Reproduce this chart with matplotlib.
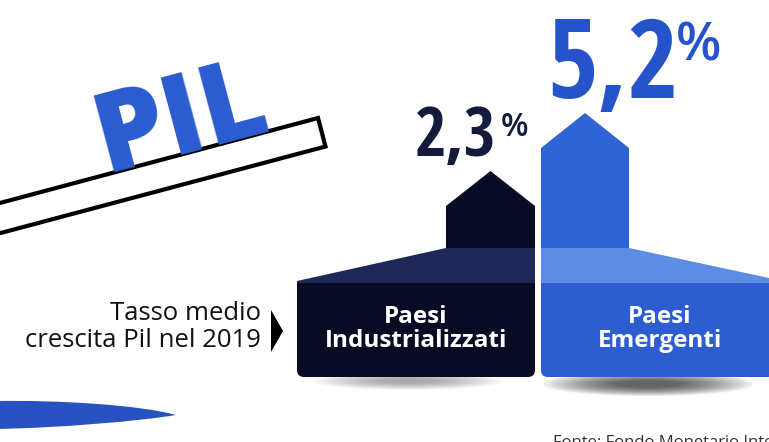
import matplotlib
matplotlib.use("Agg")
import matplotlib.pyplot as plt
from matplotlib import font_manager as fm
from matplotlib.patches import Polygon, FancyBboxPatch, Rectangle, Ellipse, PathPatch
from matplotlib.path import Path

# data
categories = ["Paesi\nIndustrializzati", "Paesi\nEmergenti"]
values = [2.3, 5.2]
value_labels = ["2,3", "5,2"]
side_label = "Tasso medio\ncrescita Pil nel 2019"
title = "PIL"
source = "Fonte: Fondo Monetario Internazionale"

FONT = "Open Sans"
W, H = 769, 442

dark_col = "#080b24"
dark_trap = "#1f2856"
blue_col = "#3063d4"
blue_box = "#2d5dcf"
blue_trap = "#5d8ce4"
ink_dark = "#141a3c"
ink_blue = "#2553c9"


def condensed_font():
    # look for a narrow face for the big numbers, else None
    order = ["Open Sans", "Roboto", "Noto Sans", "Lato", "Liberation Sans", "DejaVu Sans"]
    best, best_score = None, None
    for f in fm.fontManager.ttflist:
        narrow = ("Condensed" in f.name or "Narrow" in f.name
                  or str(f.stretch) in ("condensed", "semi-condensed", "extra-condensed"))
        if not narrow:
            continue
        fam = next((i for i, o in enumerate(order) if f.name.startswith(o)), len(order))
        try:
            w = int(f.weight)
        except ValueError:
            w = {"bold": 700, "semibold": 600, "medium": 500}.get(str(f.weight), 400)
        score = (fam, abs(w - 600), "Italic" in f.fname)
        if best_score is None or score < best_score:
            best, best_score = f, score
    return best


cf = condensed_font()


def num_props(size):
    if cf is not None:
        return fm.FontProperties(fname=cf.fname, size=size)
    return fm.FontProperties(family=FONT, weight="semibold", size=size * 0.9)


fig = plt.figure(figsize=(W / 100, H / 100), dpi=100)
ax = fig.add_axes([0, 0, 1, 1])
ax.set_xlim(0, W)
ax.set_ylim(H, 0)
ax.axis("off")

# slanted bar under the title
bar = Polygon([(-20, 208.3), (318, 118), (325.5, 146.5), (-20, 238.5)],
              closed=True, facecolor="white", edgecolor="black", lw=3.0, zorder=2)
ax.add_patch(bar)
ax.text(105, 173, title, rotation=15, rotation_mode="anchor", ha="left", va="baseline",
        fontsize=80, fontweight="heavy", family=FONT, color="#2a5bd0", zorder=3)

# blue swoosh bottom-left
sw = Path([(-5, 401), (60, 400), (140, 405), (176, 415),
           (140, 421), (60, 428), (-5, 429), (-5, 401)],
          [Path.MOVETO, Path.CURVE4, Path.CURVE4, Path.CURVE4,
           Path.CURVE4, Path.CURVE4, Path.CURVE4, Path.CLOSEPOLY])
ax.add_patch(PathPatch(sw, facecolor="#2852c2", edgecolor="none"))

# side label with pointer
ax.text(261, 327, side_label, ha="right", va="center", multialignment="right",
        fontsize=18.5, fontweight="medium", family=FONT, color="#111111", linespacing=1.15)
ax.add_patch(Polygon([(271, 310), (283, 331), (271, 352)], closed=True,
                     facecolor="black", edgecolor="none"))

# shadows under the boxes
for i in range(12):
    ax.add_patch(Ellipse((408, 381), 190 - i * 12, 18 - i * 1.2, color="black",
                         alpha=0.03, lw=0, zorder=0.5))
    ax.add_patch(Ellipse((648, 384), 210 - i * 13, 24 - i * 1.5, color="black",
                         alpha=0.07, lw=0, zorder=0.5))

# base boxes and slanted shoulders
boxes = [(297, 535, dark_col, dark_trap), (541, 775, blue_box, blue_trap)]
traps = [[(297, 283), (297, 281), (446, 248), (535, 248), (535, 283)],
         [(541, 283), (541, 248), (629, 248), (769, 278), (775, 279), (775, 283)]]
for (x0, x1, fc, tc), tr in zip(boxes, traps):
    ax.add_patch(FancyBboxPatch((x0, 283), x1 - x0, 94,
                                boxstyle="round,pad=0,rounding_size=7",
                                facecolor=fc, edgecolor="none", zorder=1))
    ax.add_patch(Rectangle((x0, 282), x1 - x0, 50, facecolor=fc, edgecolor="none", zorder=1))
    ax.add_patch(Polygon(tr, closed=True, facecolor=tc, edgecolor="none", zorder=1))

label_x = [416, 660]
for lx, cat in zip(label_x, categories):
    ax.text(lx, 329, cat, ha="center", va="center", color="white", fontsize=17.5,
            fontweight="bold", family=FONT, linespacing=1.05, zorder=3)

ax.text(553, 447, source, ha="left", va="baseline", fontsize=12, family=FONT,
        color="#333333", clip_on=False)

# value axes: columns drawn in value units
y_low = -1.55
axv = fig.add_axes([0, (H - 248) / H, 1, 248 / H])
axv.set_xlim(0, W)
axv.set_ylim(y_low, 10.85)
axv.axis("off")
axv.patch.set_alpha(0)

col_x = [(446, 535), (541, 629)]
col_c = [dark_col, blue_col]
roof = 1.75
for (x0, x1), v, c in zip(col_x, values, col_c):
    xc = (x0 + x1) / 2
    axv.add_patch(Polygon([(x0, y_low), (x0, v - roof), (xc, v), (x1, v - roof), (x1, y_low)],
                          closed=True, facecolor=c, edgecolor="none"))

num_x = [415, 547]
num_size = [49, 79]
pct_size = [23, 38]
pct_off = [(3, -5), (-2, -4)]
num_c = [ink_dark, ink_blue]
for v, lab, nx, ns, ps, po, c in zip(values, value_labels, num_x, num_size, pct_size,
                                     pct_off, num_c):
    t = axv.text(nx, v + 0.75, lab, ha="left", va="baseline", fontproperties=num_props(ns),
                 color=c)
    axv.annotate("%", xy=(1, 1), xycoords=t, xytext=po, textcoords="offset points",
                 ha="left", va="top", fontsize=ps, fontweight="semibold", family=FONT,
                 color=c)

fig.savefig("out.png", dpi=100)
